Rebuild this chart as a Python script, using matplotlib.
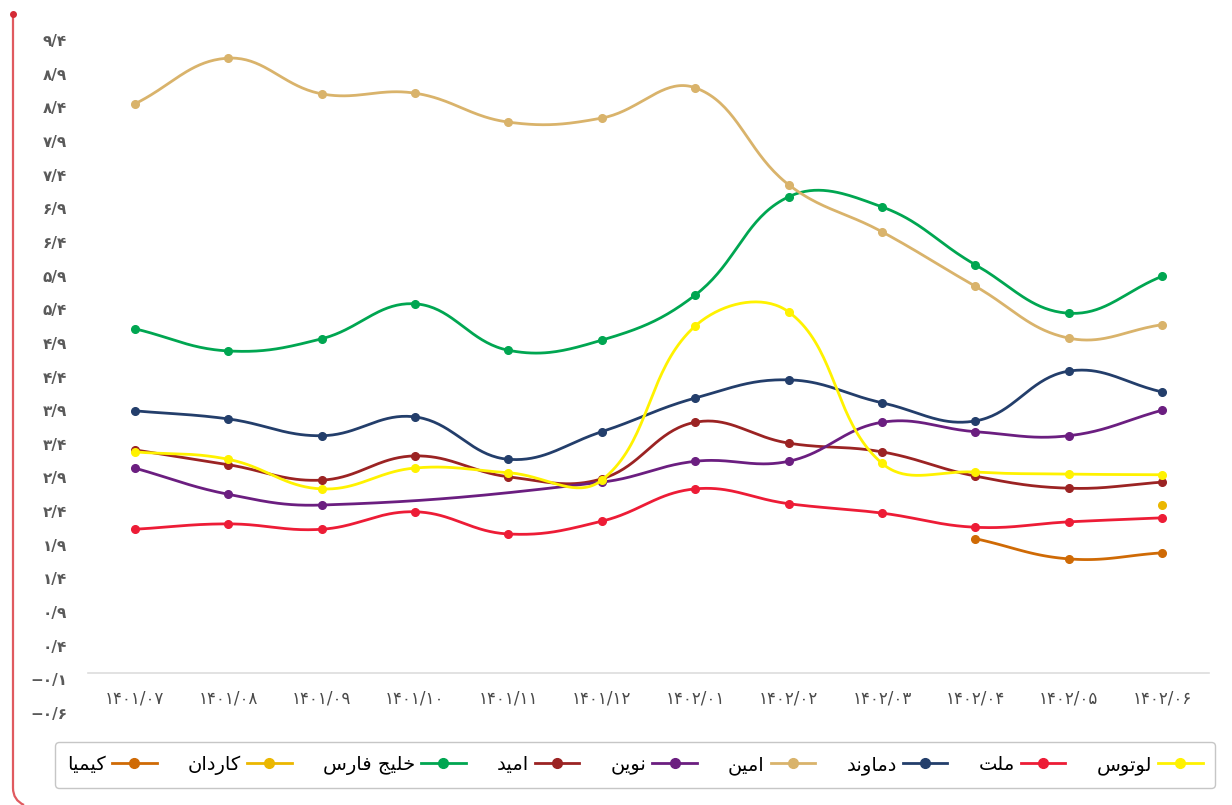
import numpy as np
import matplotlib
matplotlib.use('Agg')
import matplotlib.pyplot as plt
from matplotlib.lines import Line2D
from matplotlib.path import Path
from matplotlib.patches import PathPatch

plt.rcParams['font.family'] = ['DejaVu Sans']

months = ['1401/07', '1401/08', '1401/09', '1401/10', '1401/11', '1401/12',
          '1402/01', '1402/02', '1402/03', '1402/04', '1402/05', '1402/06']
nan = np.nan

lotus    = [3.28, 3.17, 2.73, 3.04, 2.97, 2.86, 5.15, 5.36, 3.11, 2.98, 2.95, 2.94]
mellat   = [2.13, 2.21, 2.13, 2.39, 2.06, 2.25, 2.73, 2.51, 2.37, 2.16, 2.24, 2.30]
damavand = [3.89, 3.77, 3.52, 3.80, 3.17, 3.58, 4.08, 4.35, 4.01, 3.74, 4.48, 4.17]
amin     = [8.45, 9.13, 8.60, 8.61, 8.18, 8.24, 8.69, 7.25, 6.55, 5.74, 4.97, 5.17]
novin    = [3.04, 2.65, 2.49, nan, nan, 2.83, 3.14, 3.14, 3.72, 3.58, 3.52, 3.90]
omid     = [3.31, 3.09, 2.86, 3.22, 2.91, 2.88, 3.72, 3.41, 3.28, 2.92, 2.74, 2.83]
khalij   = [5.11, 4.78, 4.96, 5.48, 4.79, 4.94, 5.61, 7.07, 6.92, 6.06, 5.34, 5.89]
kardan   = [nan, nan, nan, nan, nan, nan, nan, nan, nan, nan, nan, 2.49]
kimia    = [nan, nan, nan, nan, nan, nan, nan, nan, nan, 1.99, 1.69, 1.78]

names = ['لوتوس', 'ملت', 'دماوند', 'امین', 'نوین', 'امید', 'خلیج فارس', 'کاردان', 'کیمیا']
series = [lotus, mellat, damavand, amin, novin, omid, khalij, kardan, kimia]
colors = ['#FFF200', '#ED1C36', '#233E6B', '#D9B36B', '#6B1E80', '#9B2323',
          '#00A651', '#EBB700', '#CF6A05']

# --- tiny arabic/persian shaper (matplotlib has no bidi / joining) ---
FORMS = {  # iso, fin, ini, med
    'ا': ('\uFE8D', '\uFE8E', None, None),
    'د': ('\uFEA9', '\uFEAA', None, None),
    'ر': ('\uFEAD', '\uFEAE', None, None),
    'و': ('\uFEED', '\uFEEE', None, None),
    'ل': ('\uFEDD', '\uFEDE', '\uFEDF', '\uFEE0'),
    'ت': ('\uFE95', '\uFE96', '\uFE97', '\uFE98'),
    'س': ('\uFEB1', '\uFEB2', '\uFEB3', '\uFEB4'),
    'م': ('\uFEE1', '\uFEE2', '\uFEE3', '\uFEE4'),
    'ن': ('\uFEE5', '\uFEE6', '\uFEE7', '\uFEE8'),
    'خ': ('\uFEA5', '\uFEA6', '\uFEA7', '\uFEA8'),
    'ج': ('\uFE9D', '\uFE9E', '\uFE9F', '\uFEA0'),
    'ف': ('\uFED1', '\uFED2', '\uFED3', '\uFED4'),
    'ی': ('\uFBFC', '\uFBFD', '\uFBFE', '\uFBFF'),
    'ک': ('\uFB8E', '\uFB8F', '\uFB90', '\uFB91'),
}


def shape(s):
    out = []
    for i, ch in enumerate(s):
        if ch not in FORMS:
            out.append(ch)
            continue
        prev = s[i - 1] if i > 0 else ''
        nxt = s[i + 1] if i < len(s) - 1 else ''
        join_prev = prev in FORMS and FORMS[prev][2] is not None
        join_next = nxt in FORMS and FORMS[ch][2] is not None
        iso, fin, ini, med = FORMS[ch]
        if join_prev and join_next:
            out.append(med)
        elif join_prev:
            out.append(fin)
        elif join_next:
            out.append(ini)
        else:
            out.append(iso)
    return ''.join(out)[::-1]


FA = str.maketrans('0123456789', '۰۱۲۳۴۵۶۷۸۹')


def fa_num(v):
    s = '%.1f' % abs(v)
    s = s.replace('.', '/').translate(FA)
    return ('\u2212' if v < 0 else '') + s


# chart.js style bezier (tension 0.4) computed in pixel space
SX, SY = 93.4, 67.3


def smooth(xs, ys, t=0.4):
    p = np.column_stack([np.asarray(xs) * SX, np.asarray(ys) * SY])
    n = len(p)
    prev_cp, next_cp = [], []
    for i in range(n):
        p0 = p[i - 1] if i > 0 else p[i]
        p1 = p[i]
        p2 = p[i + 1] if i < n - 1 else p[i]
        d01 = np.hypot(*(p1 - p0))
        d12 = np.hypot(*(p2 - p1))
        tot = d01 + d12
        s01 = d01 / tot if tot else 0
        s12 = d12 / tot if tot else 0
        prev_cp.append(p1 - t * s01 * (p2 - p0))
        next_cp.append(p1 + t * s12 * (p2 - p0))
    u = np.linspace(0, 1, 40)[:, None]
    pts = [p[:1]]
    for i in range(n - 1):
        a, b, c, d = p[i], next_cp[i], prev_cp[i + 1], p[i + 1]
        seg = (1 - u) ** 3 * a + 3 * (1 - u) ** 2 * u * b + 3 * (1 - u) * u ** 2 * c + u ** 3 * d
        pts.append(seg[1:])
    pts = np.vstack(pts)
    return pts[:, 0] / SX, pts[:, 1] / SY


fig = plt.figure(figsize=(12.32, 8.05), dpi=100)
ax = fig.add_axes([88 / 1232, 1 - 713 / 805, (1209 - 88) / 1232, (713 - 40) / 805])

x = np.arange(len(months))
for k, (vals, c) in enumerate(zip(series, colors)):
    v = np.array(vals, dtype=float)
    ok = ~np.isnan(v)
    xs, ys = x[ok], v[ok]
    z = 20 - k
    if len(xs) > 1:
        sx, sy = smooth(xs, ys)
        ax.plot(sx, sy, color=c, lw=2.0, zorder=z, solid_capstyle='round')
    ax.plot(xs, ys, 'o', color=c, ms=5.5, zorder=z)

ax.set_xlim(-0.5, 11.5)
ax.set_ylim(-0.6, 9.4)
yt = np.arange(-0.6, 9.41, 0.5)
ax.set_yticks(yt)
ax.set_yticklabels([fa_num(v) for v in yt])
ax.set_xticks(x)
ax.set_xticklabels([m.translate(FA) for m in months])
ax.tick_params(axis='both', length=0, labelcolor='#5a5a5a')
ax.tick_params(axis='y', pad=15, labelsize=11)
ax.tick_params(axis='x', pad=12, labelsize=12, labelcolor='#4a4a4a')
for lab in ax.get_xticklabels() + ax.get_yticklabels():
    lab.set_fontweight('bold')
for s in ['top', 'right', 'left']:
    ax.spines[s].set_visible(False)
ax.spines['bottom'].set_position(('data', 0))
ax.spines['bottom'].set_color('#dddddd')
ax.spines['bottom'].set_linewidth(1.2)

# legend, right-to-left
handles = [Line2D([], [], color=c, lw=2.0, marker='o', ms=7) for c in colors]
labels = [shape(n) for n in names]
fig.legend(handles[::-1], labels[::-1], loc='center', bbox_to_anchor=(635 / 1232, 1 - 765 / 805),
           ncol=9, markerfirst=False, frameon=True, fancybox=True, fontsize=14,
           handlelength=2.3, handletextpad=0.3, columnspacing=1.6, borderpad=0.65,
           edgecolor='#c6c6c6', framealpha=1)

# decorative left border
deco = fig.add_axes([0, 0, 1, 1], zorder=-1)
deco.set_xlim(0, 1232)
deco.set_ylim(805, 0)
deco.axis('off')
path = Path([(13, 14), (13, 788), (13, 800), (24, 805)],
            [Path.MOVETO, Path.LINETO, Path.CURVE3, Path.CURVE3])
deco.add_patch(PathPatch(path, fill=False, edgecolor='#e05a5f', lw=1.6))
deco.plot([13], [14], 'o', color='#d42a35', ms=4)

fig.savefig('out.png', dpi=100)
